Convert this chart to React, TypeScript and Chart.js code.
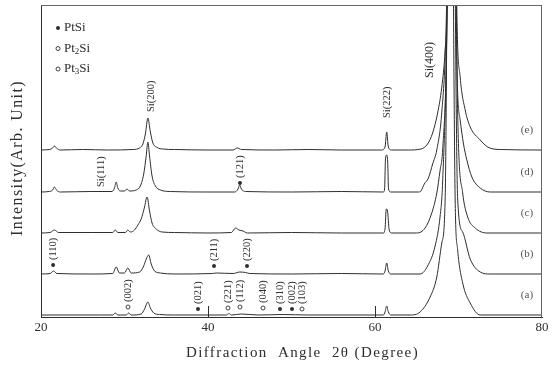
import React, { useEffect, useRef } from 'react';
import { Chart, registerables } from 'chart.js';

Chart.register(...registerables);

// ---------- data ----------
const X_TICKS = [20, 40, 60, 80];
const INNER_TICKS = [40, 60];
const X_TITLE = 'Diffraction  Angle  2θ (Degree)';
const Y_TITLE = 'Intensity(Arb. Unit)';
const SPECTRUM_LABELS = ['(a)', '(b)', '(c)', '(d)', '(e)'];
// vertical stacking offset of each pattern (arb. units)
const OFFSETS = [2, 43, 84, 125, 167];

// [2θ (deg), intensity above own baseline (arb. units)]
const SPEC_A: [number, number][] = [
  [20, 0], [27, 0], [28.6, 0], [28.9, 2], [29.2, 0], [30.2, 0], [30.5, 2], [30.8, 0],
  [32.0, 1], [32.4, 6], [32.8, 13], [33.1, 7], [33.5, 2], [34.2, 0.5], [36, 0],
  [42.2, 0], [42.5, 1.5], [42.8, 0], [44.0, 1], [46, 0], [49, 0.5], [52, 0],
  [61.0, 0], [61.2, 3], [61.4, 9], [61.6, 3], [61.9, 0], [64.2, 0], [65.4, 3],
  [66.6, 18], [67.4, 38], [68.0, 72], [68.4, 115], [69.0, 700], [69.6, 115],
  [69.9, 65], [70.5, 32], [71.4, 12], [72.6, 0], [80, 0],
];
const SPEC_B: [number, number][] = [
  [20, 0], [21.1, 0.5], [21.5, 3], [21.9, 0.5], [26, 0], [28.6, 0.5], [29.0, 7], [29.4, 1],
  [30.0, 1], [30.4, 6], [30.8, 1], [31.8, 2], [32.3, 8], [32.6, 15], [32.9, 19], [33.2, 10],
  [33.6, 3], [34.3, 1], [36, 0], [40.5, 0.5], [41.0, 1], [43.0, 0.5], [43.8, 2], [44.5, 1.5],
  [45, 0.5], [50, 0], [56, 0.5], [61.0, 0], [61.2, 3], [61.4, 11], [61.6, 3], [61.9, 0],
  [65.4, 0], [66.3, 8], [67.2, 28], [67.8, 58], [68.1, 92], [68.6, 250], [69.1, 700],
  [69.9, 75], [70.5, 42], [71.4, 15], [72.6, 2], [73.8, 0], [80, 0],
];
const SPEC_C: [number, number][] = [
  [20, 0], [21.1, 0.5], [21.6, 3], [22.1, 0.5], [26, 0.5], [28.6, 0.5], [28.9, 3], [29.2, 0.5],
  [30.1, 0.5], [30.4, 3], [30.7, 1], [31.2, 3], [31.6, 8], [32.0, 14], [32.4, 26], [32.7, 36],
  [33.0, 22], [33.3, 10], [33.8, 4], [34.5, 1], [36, 0.5], [40, 0], [42.8, 0.5], [43.3, 5],
  [43.7, 3], [44.2, 2], [44.7, 0], [50, 0.5], [56, 0], [61.0, 0], [61.2, 4], [61.35, 24],
  [61.5, 22], [61.7, 3], [62.0, 0], [65.0, 0], [66.0, 5], [66.8, 20], [67.4, 40], [67.8, 63],
  [68.1, 83], [68.6, 200], [69.2, 700], [69.9, 120], [70.5, 40], [71.1, 16], [72.0, 5],
  [73.4, 0], [80, 0],
];
const SPEC_D: [number, number][] = [
  [20, 0], [21.0, 0.5], [21.4, 2], [21.6, 5], [21.9, 1.5], [22.3, 0], [26, 0.5], [28.5, 0.5],
  [28.8, 4], [29.0, 10], [29.2, 4], [29.5, 1], [30.0, 1], [30.3, 3], [30.6, 1], [31.4, 2],
  [31.9, 6], [32.3, 18], [32.6, 36], [32.8, 50], [33.0, 36], [33.3, 16], [33.7, 6], [34.3, 2],
  [35.5, 0.5], [40, 0], [43.2, 0], [43.6, 3], [43.8, 7], [44.0, 3], [44.5, 0.5], [50, 0],
  [56, 0.5], [61.0, 0], [61.15, 3], [61.25, 32], [61.38, 37], [61.52, 30], [61.62, 3], [61.9, 0],
  [65.2, 0], [65.5, 1], [65.9, 8], [66.4, 14], [66.9, 28], [67.4, 42], [68.0, 80], [68.5, 160],
  [68.8, 300], [69.3, 700], [69.8, 132], [70.2, 72], [70.6, 48], [71.0, 32], [71.6, 15],
  [72.6, 4], [73.8, 0], [80, 0],
];
const SPEC_E: [number, number][] = [
  [20, 0], [21.0, 0.5], [21.4, 2], [21.6, 4], [21.9, 1.5], [22.3, 0], [25, 0.5], [28, 0],
  [31, 0.5], [31.8, 2], [32.2, 6], [32.5, 16], [32.8, 32], [33.1, 18], [33.4, 7], [33.9, 2.5],
  [34.6, 1], [36, 0.5], [40, 0], [43.0, 0], [43.5, 2], [44.0, 0.5], [48, 0], [52, 0.5], [56, 0],
  [60.8, 0], [61.2, 3], [61.4, 18], [61.6, 3], [62.0, 0], [64, 0], [65.5, 1], [66.3, 6],
  [66.9, 17], [67.5, 37], [68.0, 63], [68.4, 100], [68.6, 140], [69.2, 700], [69.8, 140],
  [70.2, 73], [70.8, 40], [71.4, 23], [72.6, 10], [73.5, 3], [75, 0.5], [80, 0],
];
const SPECTRA = [SPEC_A, SPEC_B, SPEC_C, SPEC_D, SPEC_E];

// peak annotations: [marker kind, 2θ, height (arb.), text]
type Ann = ['filled' | 'open' | 'none', number, number, string];
const SI_LABELS: Ann[] = [
  ['none', 27.2, 130, 'Si(111)'],
  ['none', 33.2, 205, 'Si(200)'],
  ['none', 61.45, 199, 'Si(222)'],
  ['none', 66.6, 239, 'Si(400)'],
];
const PHASE_LABELS: Ann[] = [
  ['filled', 21.45, 52, '(110)'],
  ['filled', 40.72, 51, '(211)'],
  ['filled', 44.67, 51, '(220)'],
  ['filled', 43.83, 134, '(121)'],
  ['open', 30.42, 10, '(002)'],
  ['filled', 38.8, 8, '(021)'],
  ['open', 42.39, 9, '(221)'],
  ['open', 43.83, 10, '(112)'],
  ['open', 46.59, 9, '(040)'],
  ['filled', 48.62, 8, '(310)'],
  ['filled', 50.06, 8, '(002)'],
  ['open', 51.26, 8, '(103)'],
];
// legend: [marker kind, base text, subscript, rest]
const LEGEND: [string, string, string, string][] = [
  ['filled', 'PtSi', '', ''],
  ['open', 'Pt', '2', 'Si'],
  ['open', 'Pt', '3', 'Si'],
];

const SERIF = "'Liberation Serif', 'DejaVu Serif', serif";
const INK = '#2e2e2e';

const decorPlugin = {
  id: 'decor',
  afterDatasetsDraw(chart: any) {
    const { ctx, chartArea: a, scales } = chart;
    const xs = scales.x;
    const ys = scales.y;
    ctx.save();
    // frame: top and right
    ctx.strokeStyle = '#666';
    ctx.lineWidth = 1;
    ctx.beginPath();
    ctx.moveTo(a.left, a.top + 0.5);
    ctx.lineTo(a.right, a.top + 0.5);
    ctx.moveTo(a.right - 0.5, a.top);
    ctx.lineTo(a.right - 0.5, a.bottom);
    ctx.stroke();
    // inner ticks
    ctx.strokeStyle = INK;
    ctx.beginPath();
    for (const t of INNER_TICKS) {
      const px = Math.round(xs.getPixelForValue(t)) + 0.5;
      ctx.moveTo(px, a.bottom);
      ctx.lineTo(px, a.bottom - 11);
    }
    ctx.stroke();

    const marker = (kind: string, px: number, py: number, r: number) => {
      if (kind === 'none') return;
      ctx.beginPath();
      ctx.arc(px, py, r, 0, Math.PI * 2);
      if (kind === 'filled') {
        ctx.fillStyle = INK;
        ctx.fill();
      } else {
        ctx.strokeStyle = INK;
        ctx.lineWidth = 0.9;
        ctx.stroke();
      }
    };
    const rotText = (text: string, px: number, py: number, size: number) => {
      ctx.save();
      ctx.translate(px, py);
      ctx.rotate(-Math.PI / 2);
      ctx.font = `${size}px ${SERIF}`;
      ctx.fillStyle = INK;
      ctx.textAlign = 'left';
      ctx.textBaseline = 'middle';
      ctx.fillText(text, 0, 0);
      ctx.restore();
    };

    for (const [, deg, h, text] of SI_LABELS) {
      rotText(text, xs.getPixelForValue(deg), ys.getPixelForValue(h), text === 'Si(400)' ? 12 : 10.5);
    }
    for (const [kind, deg, h, text] of PHASE_LABELS) {
      const px = xs.getPixelForValue(deg);
      const py = ys.getPixelForValue(h);
      marker(kind, px, py, 2);
      rotText(text, px, py - 5, 10.5);
    }
    // spectrum labels on the right
    ctx.font = `11px ${SERIF}`;
    ctx.fillStyle = '#555';
    ctx.textAlign = 'center';
    ctx.textBaseline = 'middle';
    SPECTRUM_LABELS.forEach((lab, i) => {
      ctx.fillText(lab, xs.getPixelForValue(78.2), ys.getPixelForValue(OFFSETS[i] + 20));
    });
    // legend
    LEGEND.forEach(([kind, base, sub, rest], i) => {
      const ly = a.top + 23 + i * 20.5;
      const lx = a.left + 17;
      marker(kind, lx, ly, 2);
      ctx.fillStyle = INK;
      ctx.textAlign = 'left';
      ctx.textBaseline = 'middle';
      ctx.font = `13px ${SERIF}`;
      let tx = lx + 6;
      ctx.fillText(base, tx, ly);
      tx += ctx.measureText(base).width;
      if (sub) {
        ctx.font = `9px ${SERIF}`;
        ctx.fillText(sub, tx, ly + 3);
        tx += ctx.measureText(sub).width;
        ctx.font = `13px ${SERIF}`;
        ctx.fillText(rest, tx, ly);
      }
    });

    // axis titles (letter-spaced like the original typesetting)
    ctx.fillStyle = INK;
    ctx.textAlign = 'center';
    ctx.textBaseline = 'middle';
    (ctx as any).letterSpacing = '1.4px';
    ctx.font = `15px ${SERIF}`;
    ctx.fillText(X_TITLE, (a.left + a.right) / 2 + 11, xs.bottom - 17);
    ctx.save();
    ctx.translate(ys.left + 18, (a.top + a.bottom) / 2 - 3);
    ctx.rotate(-Math.PI / 2);
    (ctx as any).letterSpacing = '1.4px';
    ctx.font = `16px ${SERIF}`;
    ctx.fillText(Y_TITLE, 0, 0);
    ctx.restore();
    ctx.restore();
  },
};

export default function App() {
  const ref = useRef<HTMLCanvasElement | null>(null);
  useEffect(() => {
    document.body.style.margin = '0';
    const canvas = ref.current;
    if (!canvas) return;
    const datasets = SPECTRA.map((spec, i) => ({
      label: SPECTRUM_LABELS[i],
      data: spec.map(([x, y]) => ({ x, y: y + OFFSETS[i] })),
      borderColor: INK,
      borderWidth: 1,
      pointRadius: 0,
      fill: false,
      cubicInterpolationMode: 'monotone' as const,
    }));
    const chart = new Chart(canvas, {
      type: 'line',
      data: { datasets },
      options: {
        animation: false,
        responsive: false,
        maintainAspectRatio: false,
        layout: { padding: { top: 5, right: 14, bottom: 0, left: 0 } },
        plugins: { legend: { display: false }, tooltip: { enabled: false } },
        scales: {
          x: {
            type: 'linear',
            min: 20,
            max: 80,
            afterBuildTicks: (s: any) => {
              s.ticks = X_TICKS.map((v) => ({ value: v }));
            },
            afterFit: (s: any) => {
              s.height = 53;
            },
            ticks: {
              font: { family: SERIF, size: 13 },
              color: INK,
              padding: 3,
              maxRotation: 0,
            },
            grid: { display: false, drawTicks: false },
            border: { display: true, color: INK, width: 1 },
            title: { display: false, text: X_TITLE },
          },
          y: {
            type: 'linear',
            min: 0,
            max: 312,
            afterFit: (s: any) => {
              s.width = 41;
            },
            ticks: { display: false },
            grid: { display: false, drawTicks: false },
            border: { display: true, color: INK, width: 1 },
            title: { display: false, text: Y_TITLE },
          },
        },
      },
      plugins: [decorPlugin],
    });
    return () => chart.destroy();
  }, []);
  return (
    <div style={{ width: 556, height: 370, background: '#fff' }}>
      <canvas ref={ref} width={556} height={370} style={{ display: 'block' }} />
    </div>
  );
}
